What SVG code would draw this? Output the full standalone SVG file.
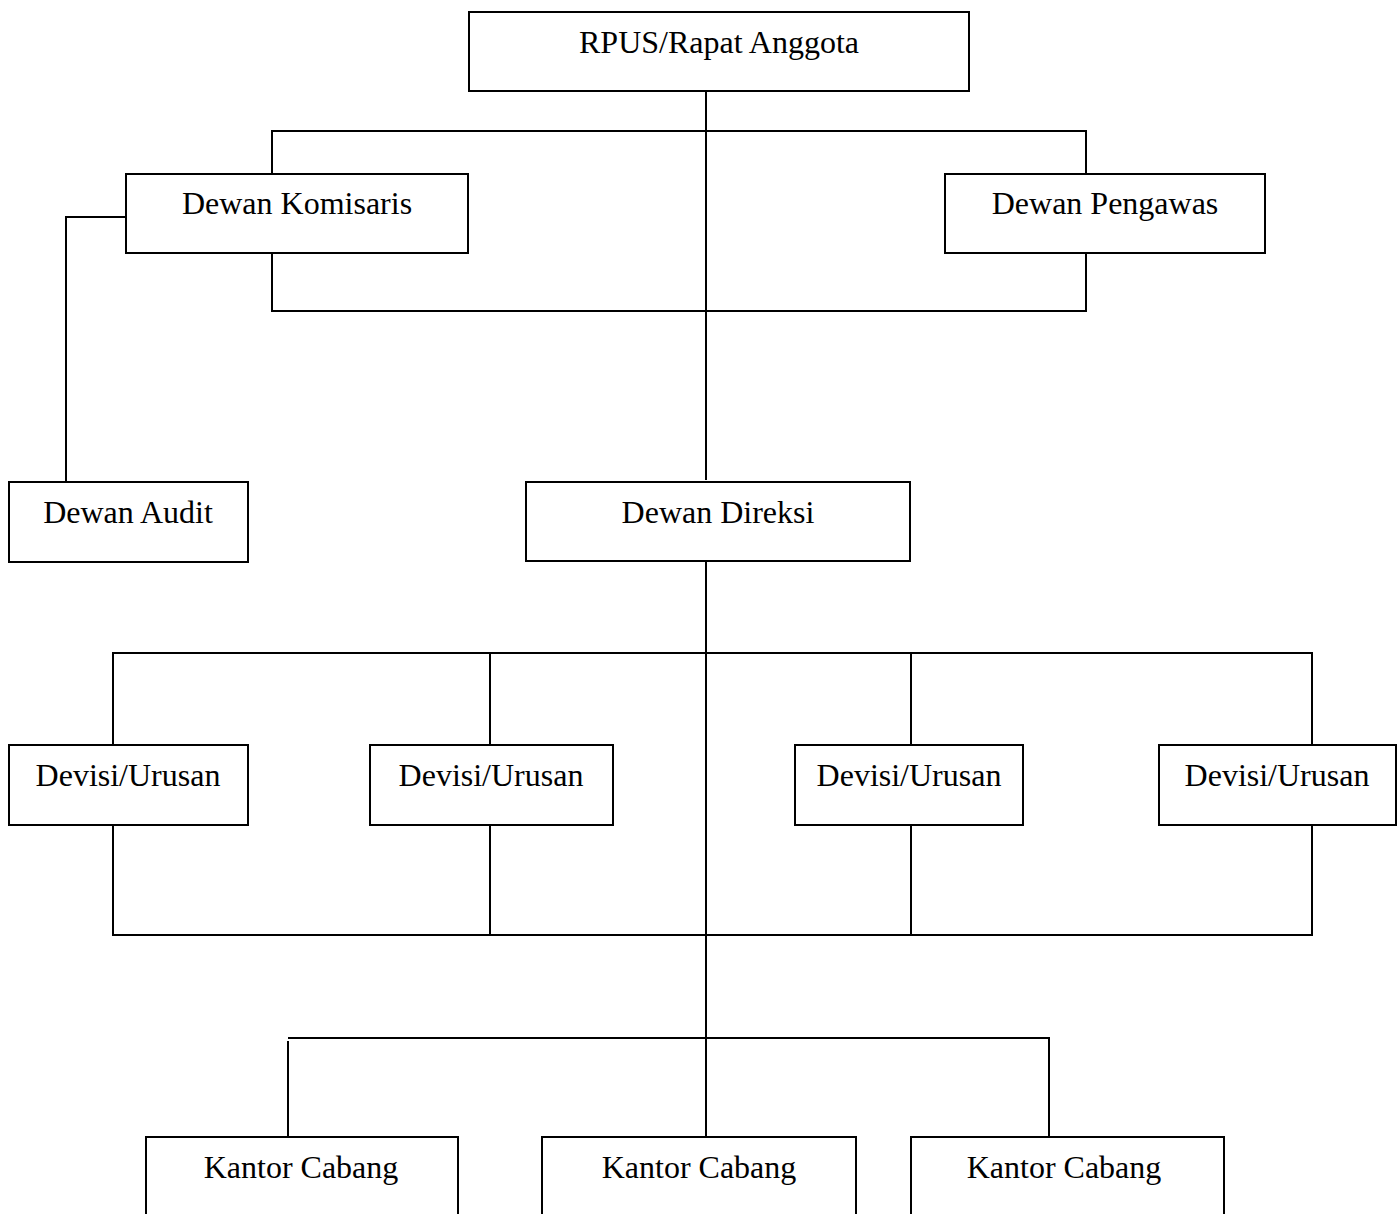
<svg xmlns="http://www.w3.org/2000/svg" width="1400" height="1214" viewBox="0 0 1400 1214">
<style>
.box{fill:#fff;stroke:#000;stroke-width:2}
.lbl{font-family:"Liberation Serif","Times New Roman",serif;font-size:32px;fill:#000;text-anchor:middle}
.ln{fill:none;stroke:#000;stroke-width:2}
</style>
<rect width="1400" height="1214" fill="#fff"/>
<g id="connectors">
<path class="ln" d="M706 91V480"/>
<path class="ln" d="M272 174V131H1086V174"/>
<path class="ln" d="M272 253V311H1086V253"/>
<path class="ln" d="M126 217H66V482"/>
<path class="ln" d="M706 561V1137"/>
<path class="ln" d="M113 745V653H1312V745"/>
<path class="ln" d="M490 653V745"/>
<path class="ln" d="M911 653V745"/>
<path class="ln" d="M113 825V935H1312V825"/>
<path class="ln" d="M490 825V935"/>
<path class="ln" d="M911 825V935"/>
<path class="ln" d="M288 1041V1137"/>
<path class="ln" d="M288 1038H1049V1137"/>
</g>
<g id="rpus"><rect class="box" x="469" y="12" width="500" height="79"/><text class="lbl" x="719" y="53">RPUS/Rapat Anggota</text></g>
<g id="komisaris"><rect class="box" x="126" y="174" width="342" height="79"/><text class="lbl" x="297" y="214">Dewan Komisaris</text></g>
<g id="pengawas"><rect class="box" x="945" y="174" width="320" height="79"/><text class="lbl" x="1105" y="214">Dewan Pengawas</text></g>
<g id="audit"><rect class="box" x="9" y="482" width="239" height="80"/><text class="lbl" x="128" y="523">Dewan Audit</text></g>
<g id="direksi"><rect class="box" x="526" y="482" width="384" height="79"/><text class="lbl" x="718" y="523">Dewan Direksi</text></g>
<g id="devisi1"><rect class="box" x="9" y="745" width="239" height="80"/><text class="lbl" x="128" y="786">Devisi/Urusan</text></g>
<g id="devisi2"><rect class="box" x="370" y="745" width="243" height="80"/><text class="lbl" x="491" y="786">Devisi/Urusan</text></g>
<g id="devisi3"><rect class="box" x="795" y="745" width="228" height="80"/><text class="lbl" x="909" y="786">Devisi/Urusan</text></g>
<g id="devisi4"><rect class="box" x="1159" y="745" width="237" height="80"/><text class="lbl" x="1277" y="786">Devisi/Urusan</text></g>
<g id="cabang1"><rect class="box" x="146" y="1137" width="312" height="90"/><text class="lbl" x="301" y="1178">Kantor Cabang</text></g>
<g id="cabang2"><rect class="box" x="542" y="1137" width="314" height="90"/><text class="lbl" x="699" y="1178">Kantor Cabang</text></g>
<g id="cabang3"><rect class="box" x="911" y="1137" width="313" height="90"/><text class="lbl" x="1064" y="1178">Kantor Cabang</text></g>
</svg>
